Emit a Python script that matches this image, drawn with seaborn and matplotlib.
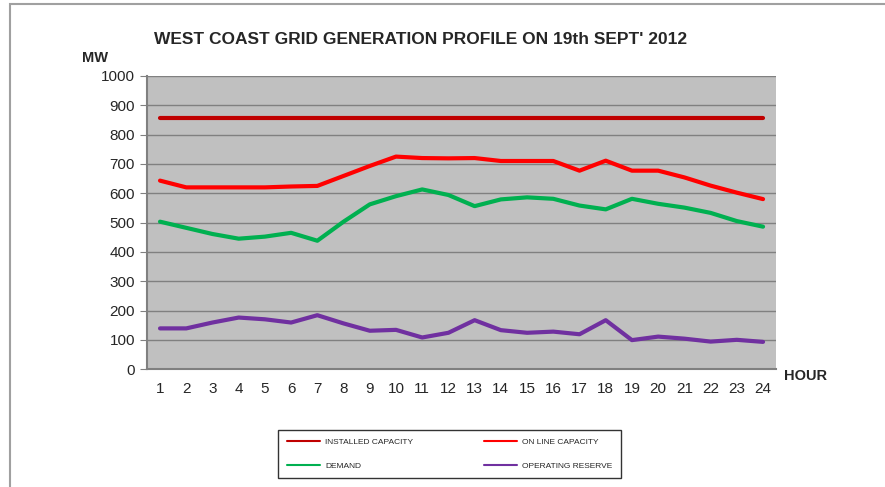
import matplotlib.pyplot as plt
import numpy as np
import pandas as pd
import seaborn as sns

# Data (MW per hour)
hours = list(range(1, 25))
installed_capacity = [857] * 24
online_capacity = [643, 620, 620, 620, 620, 623, 625, 659, 693, 725, 720, 719,
                   720, 710, 710, 710, 677, 711, 677, 677, 654, 626, 602, 580]
demand = [503, 482, 461, 445, 452, 465, 438, 503, 562, 590, 613, 594,
          556, 579, 586, 581, 558, 545, 581, 564, 551, 533, 505, 486]
operating_reserve = [139, 139, 159, 176, 170, 159, 184, 156, 131, 134, 108, 124,
                     167, 133, 124, 128, 119, 167, 99, 111, 104, 94, 100, 93]

series_names = ['INSTALLED CAPACITY', 'ON LINE CAPACITY', 'DEMAND', 'OPERATING RESERVE']
colors = ['#C00000', '#FF0000', '#00B050', '#7030A0']

df = pd.DataFrame({'hour': hours,
                   series_names[0]: installed_capacity,
                   series_names[1]: online_capacity,
                   series_names[2]: demand,
                   series_names[3]: operating_reserve})
long_df = df.melt(id_vars='hour', var_name='series', value_name='MW')

sns.set_style('white')
plt.rcParams['font.family'] = ['Liberation Sans', 'DejaVu Sans']

fig = plt.figure(figsize=(8.85, 4.87), dpi=100)
ax = fig.add_axes([0.166, 0.242, 0.711, 0.602])

sns.lineplot(data=long_df, x='hour', y='MW', hue='series', hue_order=series_names,
             palette=colors, linewidth=3, ax=ax, legend=False)

ax.set_facecolor('#C0C0C0')
ax.set_xlim(0.5, 24.5)
ax.set_ylim(0, 1000)
ax.set_yticks(np.arange(0, 1001, 100))
ax.set_xticks(hours)
ax.set_xticks(np.arange(0.5, 25, 1), minor=True)
ax.yaxis.grid(True, color='#808080', linewidth=1)
ax.set_axisbelow(True)
ax.tick_params(axis='x', which='major', length=0, pad=9, labelsize=11)
ax.tick_params(axis='x', which='minor', length=5, color='#808080', direction='out')
ax.tick_params(axis='y', length=5, color='#808080', direction='out', labelsize=11, left=True)
ax.set_xlabel('')
ax.set_ylabel('')
for side in ['top', 'right']:
    ax.spines[side].set_visible(False)
for side in ['left', 'bottom']:
    ax.spines[side].set_color('#808080')
    ax.spines[side].set_linewidth(1.5)

fig.text(0.475, 0.918, "WEST COAST GRID GENERATION PROFILE ON 19th SEPT' 2012",
         ha='center', va='center', fontsize=12.5, fontweight='bold')
fig.text(0.107, 0.88, 'MW', ha='center', va='center', fontsize=10.5, fontweight='bold')
fig.text(0.91, 0.228, 'HOUR', ha='center', va='center', fontsize=10.5, fontweight='bold')

# legend filled column-wise, so order handles to read row by row like the original
order = [0, 2, 1, 3]
handles = [plt.Line2D([], [], color=colors[i], linewidth=1.5) for i in order]
labels = [series_names[i] for i in order]
leg = fig.legend(handles, labels, loc='center', bbox_to_anchor=(0.508, 0.93 - 0.862),
                 ncol=2, frameon=True, fancybox=False, edgecolor='black',
                 fontsize=6, handlelength=4, handletextpad=0.6, columnspacing=8.5,
                 labelspacing=1.9, borderpad=1.0, borderaxespad=0)
leg.get_frame().set_linewidth(1)

# outer chart frame
fig.patches.append(plt.Rectangle((0.011, -0.1), 1.2, 1.092, transform=fig.transFigure,
                                 fill=False, edgecolor='#A0A0A0', linewidth=1.5))

fig.savefig('out.png', dpi=100)
